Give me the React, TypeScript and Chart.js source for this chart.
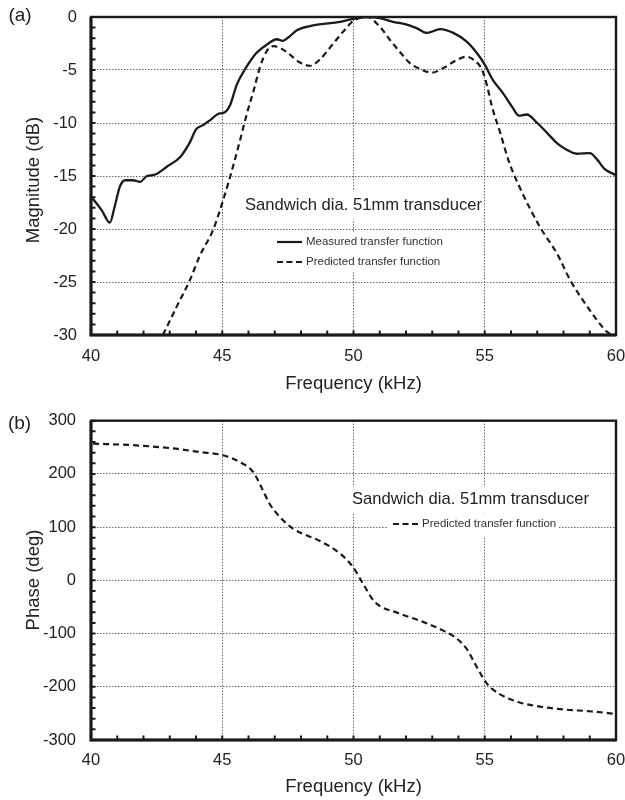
import React, { useEffect, useRef } from "react";
import { Chart, registerables } from "chart.js";

Chart.register(...registerables);

const FONT = "'Liberation Sans', Arial, Helvetica, sans-serif";
const INK = "#1a1a1a";
const TEXT = "#222222";
const GRID = "#6a6a6a";

// Frequency axis (kHz)
const freqTicks = [40, 45, 50, 55, 60];

// (a) Magnitude: measured transfer function
const measuredFreq = [
  40.05, 40.4, 40.72, 40.9, 41.1, 41.3, 41.6, 41.87, 42.13, 42.4, 42.9, 43.4,
  43.77, 44.0, 44.27, 44.5, 44.9, 45.05, 45.3, 45.55, 45.9, 46.3, 46.7, 47.08,
  47.3, 47.58, 47.84, 48.34, 48.7, 49.5, 50.06, 50.6, 51.0, 51.5, 52.0, 52.4,
  52.8, 53.3, 53.8, 54.3, 54.7, 55.0, 55.3, 55.7, 56.05, 56.3, 56.6, 57.0,
  57.4, 57.75, 58.1, 58.5, 59.0, 59.3, 59.55, 59.97,
];
const measuredDb = [
  -17.1, -18.2, -19.4, -17.9, -16.0, -15.4, -15.4, -15.55, -15.0, -14.9, -14.1,
  -13.2, -11.8, -10.6, -10.2, -9.8, -9.1, -9.05, -8.3, -6.4, -4.8, -3.4, -2.6,
  -2.1, -2.25, -1.8, -1.25, -0.85, -0.7, -0.45, -0.15, 0, -0.1, -0.45, -0.7,
  -1.05, -1.5, -1.15, -1.5, -2.3, -3.4, -4.5, -5.9, -7.2, -8.5, -9.3, -9.2,
  -10.0, -11.0, -11.9, -12.5, -12.9, -12.85, -13.5, -14.3, -14.9,
];

// (a) Magnitude: predicted transfer function
const predictedFreq = [
  42.74, 43.27, 43.77, 44.15, 44.65, 45.03, 45.4, 45.68, 45.94, 46.2, 46.44,
  46.7, 46.95, 47.15, 47.45, 47.96, 48.34, 48.72, 49.2, 49.6, 50.0, 50.5, 51.0,
  51.4, 51.77, 52.15, 52.53, 52.99, 53.4, 53.94, 54.3, 54.55, 54.9, 55.1, 55.28,
  55.6, 55.9, 56.3, 57.1, 57.75, 58.25, 58.9, 59.66, 59.85,
];
const predictedDb = [
  -30, -27.3, -24.8, -22.5, -20.1, -17.3, -14.2, -11.6, -9.1, -6.9, -4.7, -3.2,
  -2.75, -2.85, -3.3, -4.3, -4.6, -4.0, -2.6, -1.4, -0.35, 0, -0.9, -2.2, -3.3,
  -4.35, -4.9, -5.25, -4.85, -4.05, -3.75, -4.0, -5.0, -6.6, -8.5, -11.0, -13.5,
  -15.9, -19.8, -22.3, -24.8, -27.3, -29.7, -30,
];

// (b) Phase: predicted transfer function
const phaseFreq = [
  40.08, 41.6, 43.1, 44.15, 45.03, 45.68, 46.17, 46.55, 46.8, 47.2, 47.7, 48.34,
  48.72, 49.5, 49.98, 50.36, 50.8, 51.73, 52.65, 53.4, 53.87, 54.3, 54.7, 55.08,
  55.54, 56.3, 57.2, 58.1, 59.0, 60.0,
];
const phaseDeg = [
  257, 254, 248, 241, 235, 222, 204, 169, 144, 119, 97, 82, 74, 50, 25, -6, -40,
  -62, -78, -94, -107, -128, -163, -194, -213, -229, -238, -243, -246, -251,
];

const magTicks = [-30, -25, -20, -15, -10, -5, 0];
const phaseTicks = [-300, -200, -100, 0, 100, 200, 300];

const titleText = "Sandwich dia. 51mm transducer";
const measuredLabel = "Measured transfer function";
const predictedLabel = "Predicted transfer function";

type LegendRow = { label: string; dash: number[]; y: number };
type Decor = {
  panel: string;
  panelXY: [number, number];
  yTitle: string;
  yTitleXY: [number, number];
  xTitleY: number;
  xMinor: number;
  yMinor: number;
  caption: { x: number; y: number; box: [number, number, number, number] };
  legend: { x: number; rows: LegendRow[]; box: [number, number, number, number] };
};

function decorPlugin(d: Decor) {
  return {
    id: "decor",
    beforeDatasetsDraw(chart: any) {
      const { ctx } = chart;
      ctx.save();
      // white backing behind the caption and the legend
      ctx.fillStyle = "#ffffff";
      ctx.fillRect(...d.caption.box);
      ctx.fillRect(...d.legend.box);

      ctx.fillStyle = TEXT;
      ctx.textAlign = "left";
      ctx.textBaseline = "middle";
      ctx.font = `16.6px ${FONT}`;
      ctx.fillText(titleText, d.caption.x, d.caption.y);

      ctx.font = `11.5px ${FONT}`;
      for (const row of d.legend.rows) {
        ctx.strokeStyle = INK;
        ctx.lineWidth = 2.2;
        ctx.setLineDash(row.dash);
        ctx.beginPath();
        ctx.moveTo(d.legend.x, row.y);
        ctx.lineTo(d.legend.x + 25, row.y);
        ctx.stroke();
        ctx.setLineDash([]);
        ctx.fillStyle = "#333333";
        ctx.fillText(row.label, d.legend.x + 29, row.y);
      }
      ctx.restore();
    },
    afterDatasetsDraw(chart: any) {
      const { ctx, chartArea } = chart;
      const { left, right, top, bottom } = chartArea;
      const xs = chart.scales.x;
      const ys = chart.scales.y;
      ctx.save();
      ctx.strokeStyle = INK;
      ctx.lineWidth = 2;
      ctx.beginPath();
      for (let v = xs.min; v <= xs.max + 1e-9; v += d.xMinor) {
        const px = xs.getPixelForValue(v);
        ctx.moveTo(px, bottom);
        ctx.lineTo(px, bottom - 4.5);
      }
      for (let v = ys.min; v <= ys.max + 1e-9; v += d.yMinor) {
        const py = ys.getPixelForValue(v);
        ctx.moveTo(left, py);
        ctx.lineTo(left + 4.5, py);
      }
      ctx.stroke();
      // plot frame
      ctx.lineWidth = 2.4;
      ctx.strokeRect(left, top, right - left, bottom - top);
      ctx.lineWidth = 3;
      ctx.beginPath();
      ctx.moveTo(left, top);
      ctx.lineTo(left, bottom);
      ctx.lineTo(right, bottom);
      ctx.stroke();
      ctx.restore();
    },
    afterDraw(chart: any) {
      const { ctx, chartArea } = chart;
      ctx.save();
      ctx.fillStyle = TEXT;
      ctx.textBaseline = "middle";
      ctx.textAlign = "center";
      ctx.font = `19px ${FONT}`;
      ctx.fillText(d.panel, d.panelXY[0], d.panelXY[1]);
      ctx.font = `18.5px ${FONT}`;
      ctx.fillText("Frequency (kHz)", (chartArea.left + chartArea.right) / 2, d.xTitleY);
      ctx.translate(d.yTitleXY[0], d.yTitleXY[1]);
      ctx.rotate(-Math.PI / 2);
      ctx.fillText(d.yTitle, 0, 0);
      ctx.restore();
    },
  };
}

function makeConfig(opts: {
  datasets: any[];
  yTicks: number[];
  yStep: number;
  padTop: number;
  xAxisHeight: number;
  xTickPad: number;
  yTickPad: number;
  decor: Decor;
}) {
  const xMin = freqTicks[0];
  const xMax = freqTicks[freqTicks.length - 1];
  const yMin = opts.yTicks[0];
  const yMax = opts.yTicks[opts.yTicks.length - 1];
  const tickFont = { family: FONT, size: 16.5 };
  return {
    type: "line",
    data: { datasets: opts.datasets },
    options: {
      responsive: false,
      animation: false,
      events: [],
      layout: { padding: { top: opts.padTop, right: 9, bottom: 0, left: 0 } },
      plugins: { legend: { display: false }, tooltip: { enabled: false } },
      scales: {
        x: {
          type: "linear",
          min: xMin,
          max: xMax,
          ticks: { stepSize: 5, padding: opts.xTickPad, color: TEXT, font: tickFont, maxRotation: 0 },
          grid: {
            drawTicks: false,
            lineWidth: 1,
            color: (c: any) =>
              c.tick && (c.tick.value === xMin || c.tick.value === xMax) ? "rgba(0,0,0,0)" : GRID,
          },
          border: { display: false, dash: [1.5, 1.5] },
          afterFit: (s: any) => {
            s.height = opts.xAxisHeight;
            s.paddingLeft = 0;
            s.paddingRight = 0;
          },
        },
        y: {
          type: "linear",
          min: yMin,
          max: yMax,
          ticks: { stepSize: opts.yStep, padding: opts.yTickPad, color: TEXT, font: tickFont },
          grid: {
            drawTicks: false,
            lineWidth: 1,
            color: (c: any) =>
              c.tick && (c.tick.value === yMin || c.tick.value === yMax) ? "rgba(0,0,0,0)" : GRID,
          },
          border: { display: false, dash: [1.5, 1.5] },
          afterFit: (s: any) => {
            s.width = 91;
            s.paddingTop = 0;
            s.paddingBottom = 0;
          },
        },
      },
    },
    plugins: [decorPlugin(opts.decor)],
  } as any;
}

const toPoints = (xs: number[], ys: number[]) => xs.map((x, i) => ({ x, y: ys[i] }));

const lineStyle = {
  borderColor: INK,
  borderWidth: 2.3,
  pointRadius: 0,
  fill: false,
  cubicInterpolationMode: "monotone",
};

export default function App() {
  const magRef = useRef<HTMLCanvasElement>(null);
  const phaseRef = useRef<HTMLCanvasElement>(null);

  useEffect(() => {
    const magChart = new Chart(
      magRef.current!,
      makeConfig({
        datasets: [
          { ...lineStyle, label: measuredLabel, data: toPoints(measuredFreq, measuredDb) },
          {
            ...lineStyle,
            label: predictedLabel,
            borderDash: [6, 4],
            borderWidth: 2.2,
            data: toPoints(predictedFreq, predictedDb),
          },
        ],
        yTicks: magTicks,
        yStep: 5,
        padTop: 17,
        xAxisHeight: 65,
        xTickPad: 12,
        yTickPad: 14,
        decor: {
          panel: "(a)",
          panelXY: [20, 15.5],
          yTitle: "Magnitude (dB)",
          yTitleXY: [34, 180],
          xTitleY: 383.5,
          xMinor: 1,
          yMinor: 1,
          caption: { x: 245, y: 205, box: [242, 191, 240, 28] },
          legend: {
            x: 277,
            rows: [
              { label: measuredLabel, dash: [], y: 242 },
              { label: predictedLabel, dash: [6, 3.5], y: 262 },
            ],
            box: [272, 233, 176, 39],
          },
        },
      })
    );

    const phaseChart = new Chart(
      phaseRef.current!,
      makeConfig({
        datasets: [
          {
            ...lineStyle,
            label: predictedLabel,
            borderDash: [6, 4],
            borderWidth: 2.2,
            data: toPoints(phaseFreq, phaseDeg),
          },
        ],
        yTicks: phaseTicks,
        yStep: 100,
        padTop: 20.7,
        xAxisHeight: 60,
        xTickPad: 11,
        yTickPad: 15,
        decor: {
          panel: "(b)",
          panelXY: [19.5, 23.5],
          yTitle: "Phase (deg)",
          yTitleXY: [34, 180],
          xTitleY: 387,
          xMinor: 1,
          yMinor: 20,
          caption: { x: 352, y: 99, box: [349, 87, 246, 26] },
          legend: {
            x: 393,
            rows: [{ label: predictedLabel, dash: [6, 3.5], y: 124 }],
            box: [388, 114, 170, 23],
          },
        },
      })
    );

    return () => {
      magChart.destroy();
      phaseChart.destroy();
    };
  }, []);

  return (
    <div style={{ position: "absolute", left: 0, top: 0, width: 625, height: 800, background: "#ffffff" }}>
      <canvas ref={magRef} width={625} height={400} style={{ position: "absolute", left: 0, top: 0 }} />
      <canvas ref={phaseRef} width={625} height={400} style={{ position: "absolute", left: 0, top: 400 }} />
    </div>
  );
}
